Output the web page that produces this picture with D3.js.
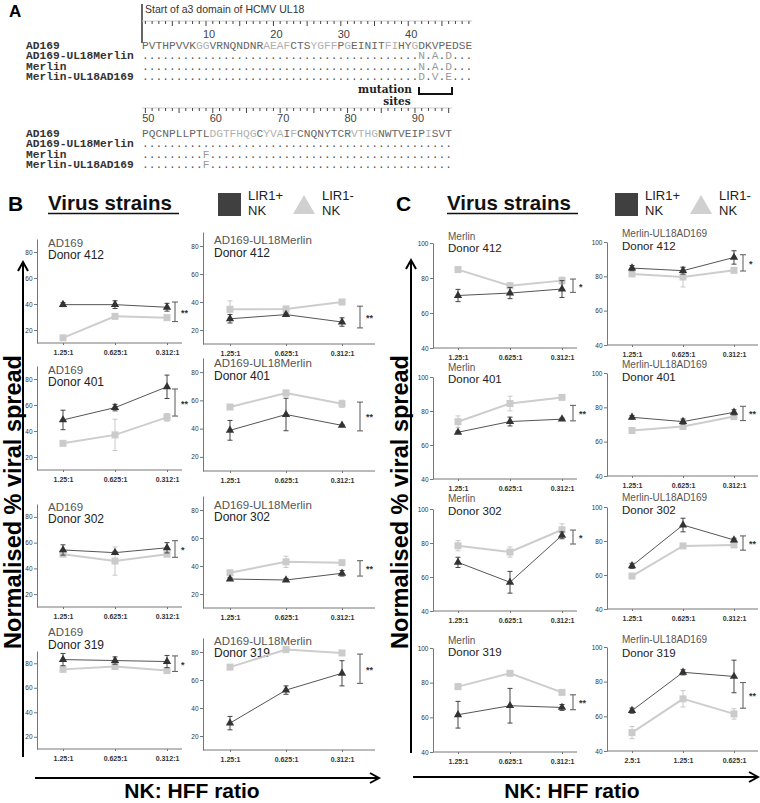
<!DOCTYPE html>
<html><head><meta charset="utf-8">
<script src="https://cdn.jsdelivr.net/npm/d3@7"></script>
<style>body{margin:0;background:#fff}svg{display:block}</style>
</head><body>
<svg id="fig" width="760" height="803"></svg>
<script>
// ===== Panel A data =====
const alignStrains = ["AD169", "AD169-UL18Merlin", "Merlin", "Merlin-UL18AD169"];
const block1Start = 1;
const block1Rows = [
  "PVTHPVVKGGVRNQNDNRAEAFCTSYGFFPGEINITFIHYGDKVPEDSE",
  ".........................................N.A.D...",
  ".........................................N.A.D...",
  ".........................................D.V.E..."
];
const block1Shade = "00000000" + "11" + "00000000" + "1111" + "000" + "1111" + "0" + "1" + "00000" + "1" + "1" + "00" + "1" + "00000000";
const block1Numbers = [10, 20, 30, 40];
const block2Start = 50;
const block2Rows = [
  "PQCNPLLPTLDGTFHQGCYVAIFCNQNYTCRVTHGNWTVEIPISVT",
  "..............................................",
  ".........F....................................",
  ".........F...................................."
];
const block2Shade = "0000000000" + "1111111" + "0" + "111" + "0" + "1" + "00000000" + "1111" + "0000000" + "1" + "000";
const block2Numbers = [50, 60, 70, 80, 90];

// ===== Panels B & C data =====
const ratioLabels = ["1.25:1", "0.625:1", "0.312:1"];
const ratioLabelsAlt = ["2.5:1", "1.25:1", "0.625:1"];
const panelStrain = ["AD169", "AD169", "AD169", "AD169",
  "AD169-UL18Merlin", "AD169-UL18Merlin", "AD169-UL18Merlin", "AD169-UL18Merlin",
  "Merlin", "Merlin", "Merlin", "Merlin",
  "Merlin-UL18AD169", "Merlin-UL18AD169", "Merlin-UL18AD169", "Merlin-UL18AD169"];
const panelDonor = ["Donor 412", "Donor 401", "Donor 302", "Donor 319",
  "Donor 412", "Donor 401", "Donor 302", "Donor 319",
  "Donor 412", "Donor 401", "Donor 302", "Donor 319",
  "Donor 412", "Donor 401", "Donor 302", "Donor 319"];
const panelUsesAltRatios = [0,0,0,0, 0,0,0,0, 0,0,0,0, 0,0,0,1];
const lir1PosMean = [
  [39.5, 39.5, 37.5], [48.5, 58, 74], [54.3, 52.2, 56], [83, 82.2, 81.4],
  [28, 31, 25.7], [38.8, 50, 42.3], [30.7, 30, 34.8], [29.2, 52.8, 64.8],
  [70, 71.4, 73.7], [67.5, 73.8, 75.2], [68.6, 56.9, 84.5], [61.5, 66.7, 65.7],
  [84.8, 83.3, 91], [74.2, 71.7, 77.1], [65.4, 89.4, 80.6], [63.3, 85.4, 83]
];
const lir1PosErr = [
  [1.5, 3, 3], [7.5, 2.5, 9], [4, 1, 4], [5, 3, 5],
  [3, 1, 3], [7, 11.5, 0.5], [1, 1, 2], [4.8, 3, 9],
  [3.5, 3.2, 4.8], [0.6, 2.6, 0.6], [3, 6.4, 2], [7.7, 10, 1.7],
  [1.5, 2, 3.9], [1, 1.5, 1.5], [1.5, 4, 1], [1.5, 1.5, 9.4]
];
const lir1NegMean = [
  [14, 30.5, 29.5], [30.5, 37, 50.5], [51, 45.7, 51], [75, 77.3, 74],
  [34.8, 35, 40], [55.3, 65.2, 57.6], [35.2, 43, 42.4], [69.2, 81.7, 79.3],
  [84.8, 75.6, 78.5], [73.7, 84.4, 88], [78.4, 74.7, 87.8], [77.7, 85.4, 74.4],
  [81.4, 79.6, 83.5], [66.5, 68.8, 74.6], [59.4, 77.1, 77.7], [50.6, 70.1, 61.4]
];
const lir1NegErr = [
  [0.6, 1, 1], [1, 12, 3], [1, 11, 1], [1, 1, 1],
  [6, 2, 1], [1, 2, 2.5], [1, 4, 1], [1, 1, 1],
  [1.5, 1.5, 2], [3.4, 4.3, 1], [3, 3, 3.5], [1.5, 1, 1],
  [1, 5.8, 1], [1.5, 1, 1.5], [1.5, 0.6, 0.6], [3.5, 4.7, 3]
];
const sigLow = [26.5, 51.5, 48.6, 73.3, 21.5, 38.4, 32.8, 57.6, 71.8, 74.2, 79.4, 64.4, 83.1, 72.3, 74.6, 64.7];
const sigHigh = [41.5, 72.3, 61.5, 86, 37, 58.8, 43.8, 78.5, 79.4, 83.3, 87.6, 73, 92.6, 80.6, 83, 79.5];
const sigLabel = ["**", "**", "*", "*", "**", "**", "**", "**", "*", "**", "*", "**", "*", "**", "**", "**"];
const yDomainB = [10, 90], yTicksB = [20, 40, 60, 80];
const yDomainC = [40, 100], yTicksC = [40, 60, 80, 100];

// ===== layout (positions only) =====
const cols = {
  Bl: {x0: 37, x1: 182, c0: 63, c2: 167, bx: 175},
  Br: {x0: 203, x1: 375, c0: 230, c2: 342, bx: 360},
  Cl: {x0: 433, x1: 577, c0: 458, c2: 562, bx: 573},
  Cr: {x0: 607, x1: 758, c0: 632, c2: 734, bx: 743}
};
const panelCol = ["Bl","Bl","Bl","Bl","Br","Br","Br","Br","Cl","Cl","Cl","Cl","Cr","Cr","Cr","Cr"];
const panelRange = [[343,239],[470,366],[607,504],[749,651],[344,232],[471,358],[608,496],[750,638],
  [348,243],[479,377],[611,509],[752,648],[345,242],[476,373],[609,507],[751,647]];
const panelTitleY = [[247,259],[374,386],[511,523],[636,649],[244,257],[367,380],[509,521],[645,657],
  [240,252],[371,383],[502,515],[644,656],[237,250],[368,381],[501,514],[643,657]];

const svg = d3.select("#fig");
const SANS = "'Liberation Sans', Arial, sans-serif";
const MONO = "'Liberation Mono', 'Courier New', monospace";

// ===== Panel A =====
const A = svg.append("g");
A.append("text").attr("x", 9).attr("y", 17).text("A")
  .attr("font-family", SANS).attr("font-weight", "bold").attr("font-size", 17);
A.append("line").attr("x1", 142).attr("x2", 142).attr("y1", 4).attr("y2", 43).attr("stroke", "#111").attr("stroke-width", 1.3);
A.append("text").attr("x", 145).attr("y", 13).text("Start of a3 domain of HCMV UL18")
  .attr("font-family", SANS).attr("font-size", 10.5).attr("fill", "#333");
const seqX0 = 142, cw = 6.74, monoSize = cw / 0.6;
function drawBlock(rows, shade, start, numbers, rulerY, numY, rowY0, rowDy) {
  const n = rows[0].length;
  const rx = d3.scaleLinear().domain([start - 0.5, start + n - 0.5]).range([seqX0, seqX0 + n * cw]);
  A.append("line").attr("x1", seqX0).attr("x2", seqX0 + n * cw).attr("y1", rulerY).attr("y2", rulerY)
    .attr("stroke", "#ccc").attr("stroke-width", 1);
  d3.range(start, start + n).forEach(r => {
    A.append("line").attr("x1", rx(r)).attr("x2", rx(r)).attr("y1", rulerY)
      .attr("y2", rulerY + (r % 5 === 0 ? 5 : 3)).attr("stroke", "#444").attr("stroke-width", 1);
  });
  numbers.forEach(v => A.append("text").attr("x", rx(v) + 3).attr("y", numY).attr("text-anchor", "middle")
    .attr("font-family", SANS).attr("font-size", 11).attr("fill", "#444").text(v));
  rows.forEach((row, i) => {
    const y = rowY0 + i * rowDy;
    A.append("text").attr("x", 26).attr("y", y).text(alignStrains[i])
      .attr("font-family", MONO).attr("font-weight", "bold").attr("font-size", monoSize).attr("fill", "#333");
    const t = A.append("text").attr("x", rx(start - 0.5)).attr("y", y)
      .attr("font-family", MONO).attr("font-size", monoSize).attr("textLength", n * cw).attr("lengthAdjust", "spacing");
    row.split("").forEach((ch, j) => {
      t.append("tspan").text(ch)
        .attr("fill", ch === "." ? "#555" : (i === 0 ? (shade[j] === "1" ? "#b0b0b0" : "#666") : "#999"));
    });
  });
}
drawBlock(block1Rows, block1Shade, block1Start, block1Numbers, 21, 38, 49, 10.3);
drawBlock(block2Rows, block2Shade, block2Start, block2Numbers, 108, 122, 136.5, 10.5);
// mutation sites bracket
const mt = A.append("text").attr("text-anchor", "middle")
  .attr("font-family", "'DejaVu Serif', serif").attr("font-weight", "bold").attr("font-size", 10.5).attr("fill", "#222");
mt.append("tspan").attr("x", 385).attr("y", 93).text("mutation");
mt.append("tspan").attr("x", 397).attr("y", 105).text("sites");
A.append("path").attr("d", "M419,87V94H452V87").attr("fill", "none").attr("stroke", "#111").attr("stroke-width", 2);

// ===== Panel headers (B, C) =====
function header(x, letter, vx, legX) {
  const g = svg.append("g");
  g.append("text").attr("x", x).attr("y", 211).text(letter)
    .attr("font-family", SANS).attr("font-weight", "bold").attr("font-size", 21);
  g.append("text").attr("x", vx).attr("y", 210).text("Virus strains")
    .attr("font-family", SANS).attr("font-weight", "bold").attr("font-size", 20.5).attr("fill", "#111");
  g.append("line").attr("x1", vx).attr("x2", vx + 131).attr("y1", 213.5).attr("y2", 213.5).attr("stroke", "#111").attr("stroke-width", 1.6);
  g.append("rect").attr("x", legX).attr("y", 193).attr("width", 23).attr("height", 23).attr("fill", "#404040");
  g.append("text").attr("x", legX + 30).attr("y", 200).text("LIR1+").attr("font-family", SANS).attr("font-size", 13).attr("fill", "#222");
  g.append("text").attr("x", legX + 30).attr("y", 215).text("NK").attr("font-family", SANS).attr("font-size", 13).attr("fill", "#222");
  g.append("path").attr("d", `M${legX + 75},214L${legX + 86},195L${legX + 97},214Z`).attr("fill", "#d0d0d0");
  g.append("text").attr("x", legX + 104).attr("y", 200).text("LIR1-").attr("font-family", SANS).attr("font-size", 13).attr("fill", "#222");
  g.append("text").attr("x", legX + 104).attr("y", 215).text("NK").attr("font-family", SANS).attr("font-size", 13).attr("fill", "#222");
}
header(8, "B", 48, 218);
header(396, "C", 447, 615);

// big axis arrows & labels
function bigAxes(vx, vTop, vBot, hy, hx0, hx1, labX, nkX) {
  const g = svg.append("g").attr("stroke", "#000").attr("fill", "none").attr("stroke-width", 2);
  g.append("line").attr("x1", vx).attr("x2", vx).attr("y1", vTop).attr("y2", vBot);
  g.append("path").attr("d", `M${vx - 5},${vTop + 9}L${vx},${vTop}L${vx + 5},${vTop + 9}`);
  g.append("line").attr("x1", hx0).attr("x2", hx1).attr("y1", hy).attr("y2", hy);
  g.append("path").attr("d", `M${hx1 - 9},${hy - 5}L${hx1},${hy}L${hx1 - 9},${hy + 5}`);
  svg.append("text").attr("transform", `translate(${labX},502) rotate(-90)`).attr("text-anchor", "middle")
    .text("Normalised % viral spread").attr("font-family", SANS).attr("font-weight", "bold").attr("font-size", 23.5);
  svg.append("text").attr("x", nkX).attr("y", 798).attr("text-anchor", "middle").text("NK: HFF ratio")
    .attr("font-family", SANS).attr("font-weight", "bold").attr("font-size", 21);
}
bigAxes(23, 262, 757, 778, 35, 379, 20.5, 192);
bigAxes(411, 260, 753, 777, 413, 758, 408, 572);

// ===== subplots =====
const triangle = d3.symbol().type(d3.symbolTriangle).size(30);
panelStrain.forEach((strain, i) => {
  const C = cols[panelCol[i]];
  const isB = i < 8;
  const cats = panelUsesAltRatios[i] ? ratioLabelsAlt : ratioLabels;
  const x = d3.scalePoint().domain(cats).range([C.c0, C.c2]);
  const y = d3.scaleLinear().domain(isB ? yDomainB : yDomainC).range(panelRange[i]);
  const g = svg.append("g");
  // y axis
  const ya = g.append("g").attr("transform", `translate(${C.x0},0)`)
    .call(d3.axisLeft(y).tickValues(isB ? yTicksB : yTicksC).tickSize(3).tickSizeOuter(0).tickPadding(1.5));
  ya.select(".domain").attr("stroke", "#777");
  ya.selectAll(".tick line").attr("stroke", "#777");
  ya.selectAll(".tick text").attr("font-family", SANS).attr("font-size", 6.5).attr("fill", "#333");
  // x axis
  const xa = g.append("g").attr("transform", `translate(0,${panelRange[i][0]})`)
    .call(d3.axisBottom(x).tickSize(2).tickSizeOuter(0).tickPadding(5));
  xa.select(".domain").remove();
  xa.selectAll(".tick line").attr("stroke", "#777");
  xa.selectAll(".tick text").attr("font-family", SANS).attr("font-weight", "bold").attr("font-size", 7).attr("fill", "#333");
  g.append("line").attr("x1", C.x0).attr("x2", C.x1).attr("y1", panelRange[i][0]).attr("y2", panelRange[i][0])
    .attr("stroke", "#777").attr("stroke-width", 1);
  // titles
  const tt = g.append("text").attr("font-family", SANS);
  tt.append("tspan").attr("x", C.x0 + (isB ? 11 : 15)).attr("y", panelTitleY[i][0]).text(strain)
    .attr("font-size", isB ? 11.5 : 10).attr("fill", "#555");
  tt.append("tspan").attr("x", C.x0 + (isB ? 11 : 15)).attr("y", panelTitleY[i][1]).text(panelDonor[i])
    .attr("font-size", isB ? 12 : 11.5).attr("fill", "#222");
  // series
  const series = [
    {mean: lir1NegMean[i], err: lir1NegErr[i], color: "#cdcdcd", lw: 2, mark: "square"},
    {mean: lir1PosMean[i], err: lir1PosErr[i], color: "#555", lw: 1, mark: "tri"}
  ];
  series.forEach(s => {
    const pts = cats.map((c, k) => ({c, v: s.mean[k], e: s.err[k]}));
    g.append("path").datum(pts).attr("fill", "none").attr("stroke", s.color).attr("stroke-width", s.lw)
      .attr("d", d3.line().x(d => x(d.c)).y(d => y(d.v)));
    pts.forEach(d => {
      const eg = g.append("g").attr("stroke", s.mark === "tri" ? "#444" : "#c8c8c8").attr("stroke-width", 1);
      eg.append("line").attr("x1", x(d.c)).attr("x2", x(d.c)).attr("y1", y(d.v - d.e)).attr("y2", y(d.v + d.e));
      eg.append("line").attr("x1", x(d.c) - 2.5).attr("x2", x(d.c) + 2.5).attr("y1", y(d.v - d.e)).attr("y2", y(d.v - d.e));
      eg.append("line").attr("x1", x(d.c) - 2.5).attr("x2", x(d.c) + 2.5).attr("y1", y(d.v + d.e)).attr("y2", y(d.v + d.e));
      if (s.mark === "square") {
        g.append("rect").attr("x", x(d.c) - 3.5).attr("y", y(d.v) - 3.5).attr("width", 7).attr("height", 7).attr("fill", "#cbcbcb");
      } else {
        g.append("path").attr("transform", `translate(${x(d.c)},${y(d.v)})`).attr("d", triangle).attr("fill", "#333");
      }
    });
  });
  // significance bracket
  const bg = g.append("g").attr("stroke", "#666").attr("stroke-width", 1.1);
  bg.append("line").attr("x1", C.bx).attr("x2", C.bx).attr("y1", y(sigLow[i])).attr("y2", y(sigHigh[i]));
  bg.append("line").attr("x1", C.bx - 3).attr("x2", C.bx + 3).attr("y1", y(sigLow[i])).attr("y2", y(sigLow[i]));
  bg.append("line").attr("x1", C.bx - 3).attr("x2", C.bx + 3).attr("y1", y(sigHigh[i])).attr("y2", y(sigHigh[i]));
  g.append("text").attr("x", C.bx + 6).attr("y", y((sigLow[i] + sigHigh[i]) / 2) + 4).text(sigLabel[i])
    .attr("font-family", SANS).attr("font-weight", "bold").attr("font-size", 9).attr("fill", "#333");
});
</script>
</body></html>
